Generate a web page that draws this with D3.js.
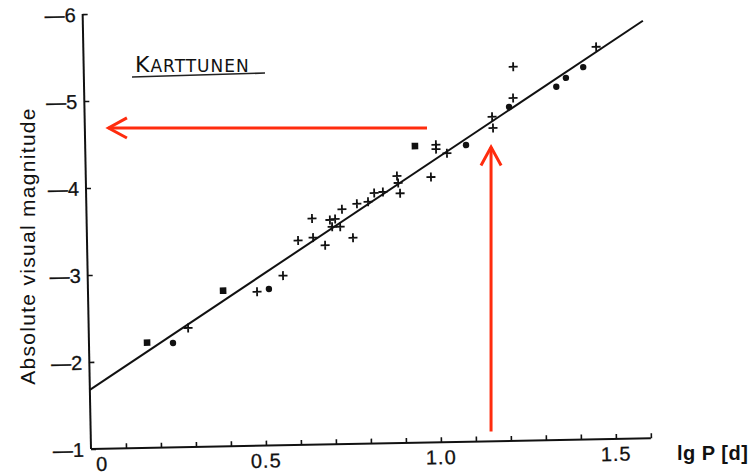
<!DOCTYPE html>
<html>
<head>
<meta charset="utf-8">
<script src="https://cdn.jsdelivr.net/npm/d3@7"></script>
<style>
  body { margin: 0; background: #fff; }
  text { font-family: "Liberation Sans", Arial, sans-serif; fill: #111; }
</style>
</head>
<body>
<div id="chart"></div>
<script>
// cepheid period - luminosity relation
var crossP = [0.284, 0.483, 0.558, 0.603, 0.644, 0.646, 0.680, 0.695, 0.710, 0.701, 0.724, 0.730, 0.760, 0.773, 0.805, 0.823, 0.848, 0.889, 0.892, 0.897, 0.986, 1.002, 1.002, 1.033, 1.164, 1.166, 1.225, 1.227, 1.465];
var crossM = [-2.37, -2.77, -2.95, -3.35, -3.60, -3.38, -3.29, -3.58, -3.59, -3.50, -3.50, -3.70, -3.37, -3.76, -3.78, -3.88, -3.89, -4.07, -3.99, -3.87, -4.05, -4.42, -4.37, -4.32, -4.73, -4.60, -4.94, -5.30, -5.51];
var dotP = [0.240, 0.517, 1.088, 1.213, 1.349, 1.377, 1.427];
var dotM = [-2.20, -2.80, -4.41, -4.84, -5.06, -5.16, -5.28];
var squareP = [0.166, 0.386, 0.942];
var squareM = [-2.21, -2.79, -4.41];
var fitP = [0, 1.6];
var fitM = [-1.68, -5.80];
var xTicks = [0.1, 0.2, 0.3, 0.4, 0.5, 0.6, 0.7, 0.8, 0.9, 1.0, 1.1, 1.2, 1.3, 1.4, 1.5, 1.6];
var xTickLabels = {0: "0", 0.5: "0.5", 1.0: "1.0", 1.5: "1.5"};
var yTicks = [-1, -2, -3, -4, -5, -6];
// the two red arrows drawn on the scan
var hArrow = {p0: 0.96, p1: 0.05, m: -4.69};
var vArrow = {p: 1.143, m0: -1.2, m1: -4.47};

var width = 753, height = 476;
var ox = 91, oy = 449;

var svg = d3.select("#chart").append("svg")
  .attr("width", width)
  .attr("height", height);

svg.append("rect").attr("width", width).attr("height", height).attr("fill", "#fff");

var x = d3.scaleLinear().domain([0, 1.6]).range([0, 560]);
var y = d3.scaleLinear().domain([-1, -6]).range([0, -435]);

// scan is a little tilted
var plot = svg.append("g").attr("transform", "translate(" + ox + "," + oy + ") rotate(-1.1)");

var xAxis = plot.append("g")
  .call(d3.axisBottom(x).tickValues(xTicks).tickSizeInner(-5).tickSizeOuter(0).tickFormat(""));
xAxis.select(".domain").attr("d", "M0,0H" + x(1.6)).attr("stroke-width", 2).attr("stroke", "#111");
xAxis.selectAll(".tick line").attr("stroke-width", 1.6).attr("stroke", "#111");

plot.selectAll(".xlab").data([0, 0.5, 1.0, 1.5]).enter().append("text")
  .attr("class", "xlab")
  .attr("x", function(d) { return x(d) + (d === 0 ? 11 : 0); })
  .attr("y", 22)
  .attr("text-anchor", "middle")
  .style("font-size", "20px")
  .style("letter-spacing", "1px")
  .style("stroke", "#111").style("stroke-width", 0.3)
  .text(function(d) { return xTickLabels[d]; });

var yAxis = plot.append("g")
  .call(d3.axisLeft(y).tickValues(yTicks).tickSizeInner(-5).tickSizeOuter(0)
    .tickFormat(function(d) { return "\u2014" + Math.abs(d); }));
yAxis.select(".domain").attr("d", "M0,0V" + y(-6)).attr("stroke-width", 2).attr("stroke", "#111");
yAxis.selectAll(".tick line").attr("stroke-width", 1.6).attr("stroke", "#111");
yAxis.selectAll(".tick text")
  .attr("x", -7)
  .attr("dy", "0.36em")
  .style("font-size", "20px")
  .style("font-family", "Liberation Sans, Arial, sans-serif")
  .style("stroke", "#111").style("stroke-width", 0.3)
  .attr("fill", "#111");

// fit line
plot.append("line")
  .attr("x1", x(fitP[0])).attr("y1", y(fitM[0]))
  .attr("x2", x(fitP[1])).attr("y2", y(fitM[1]))
  .attr("stroke", "#111")
  .attr("stroke-width", 2);

plot.selectAll(".cross").data(d3.range(crossP.length)).enter().append("path")
  .attr("class", "cross")
  .attr("transform", function(i) { return "translate(" + x(crossP[i]) + "," + y(crossM[i]) + ")"; })
  .attr("d", "M-4.5,0H4.5M0,-4.5V4.5")
  .attr("stroke", "#111")
  .attr("stroke-width", 1.8);

plot.selectAll(".dot").data(d3.range(dotP.length)).enter().append("circle")
  .attr("class", "dot")
  .attr("cx", function(i) { return x(dotP[i]); })
  .attr("cy", function(i) { return y(dotM[i]); })
  .attr("r", 3.2)
  .attr("fill", "#111");

plot.selectAll(".square").data(d3.range(squareP.length)).enter().append("rect")
  .attr("class", "square")
  .attr("x", function(i) { return x(squareP[i]) - 3.3; })
  .attr("y", function(i) { return y(squareM[i]) - 3.3; })
  .attr("width", 6.6).attr("height", 6.6)
  .attr("fill", "#111");

// axis titles
svg.append("text")
  .attr("transform", "translate(35,246) rotate(-90)")
  .attr("text-anchor", "middle")
  .style("font-size", "21px")
  .style("letter-spacing", "1.3px")
  .text("Absolute visual magnitude");

svg.append("text")
  .attr("x", 677).attr("y", 460)
  .style("font-size", "20px")
  .style("font-weight", "bold")
  .style("letter-spacing", "0.5px")
  .text("lg P [d]");

// handwritten note
var note = svg.append("text").attr("x", 135).attr("y", 72)
  .style("letter-spacing", "1px")
  .style("font-family", "DejaVu Sans, sans-serif");
note.append("tspan").style("font-size", "22px").text("K");
note.append("tspan").style("font-size", "17px").text("ARTTUNEN");
svg.append("line")
  .attr("x1", 132).attr("y1", 77).attr("x2", 265).attr("y2", 73)
  .attr("stroke", "#222").attr("stroke-width", 1.6);

// red arrows, same frame as the plot but not tilted
var ann = svg.append("g").attr("transform", "translate(" + ox + "," + oy + ")");
var red = "#ff2c0e";
function arrow(x1, y1, x2, y2) {
  var a = Math.atan2(y2 - y1, x2 - x1), L = 21, w = 0.5;
  ann.append("line").attr("x1", x1).attr("y1", y1).attr("x2", x2).attr("y2", y2)
    .attr("stroke", red).attr("stroke-width", 3);
  ann.append("path")
    .attr("d", "M" + (x2 - L * Math.cos(a - w)) + "," + (y2 - L * Math.sin(a - w)) +
      "L" + x2 + "," + y2 +
      "L" + (x2 - L * Math.cos(a + w)) + "," + (y2 - L * Math.sin(a + w)))
    .attr("fill", "none").attr("stroke", red).attr("stroke-width", 3);
}
arrow(x(hArrow.p0), y(hArrow.m), x(hArrow.p1), y(hArrow.m));
arrow(x(vArrow.p), y(vArrow.m0), x(vArrow.p), y(vArrow.m1));
</script>
</body>
</html>
